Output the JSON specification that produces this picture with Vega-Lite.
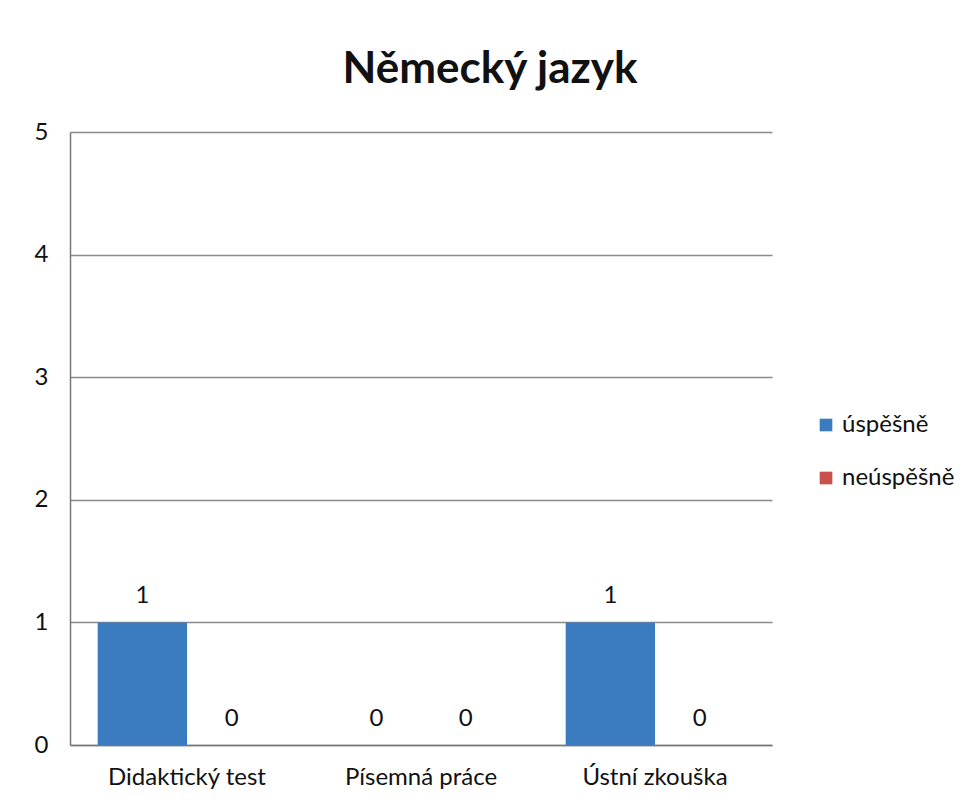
{
  "$schema": "https://vega.github.io/schema/vega-lite/v6.json",
  "width": 702,
  "height": 613,
  "autosize": {"type": "none"},
  "padding": {"left": 70, "top": 132, "right": 201, "bottom": 62},
  "background": "white",
  "title": {
    "text": "Německý jazyk",
    "font": "Lato",
    "fontSize": 44,
    "fontWeight": "bold",
    "color": "#111111",
    "anchor": "middle",
    "dx": 69,
    "offset": 28
  },
  "data": {
    "values": [
      {"zkouska": "Didaktický test", "vysledek": "úspěšně", "pocet": 1},
      {"zkouska": "Didaktický test", "vysledek": "neúspěšně", "pocet": 0},
      {"zkouska": "Písemná práce", "vysledek": "úspěšně", "pocet": 0},
      {"zkouska": "Písemná práce", "vysledek": "neúspěšně", "pocet": 0},
      {"zkouska": "Ústní zkouška", "vysledek": "úspěšně", "pocet": 1},
      {"zkouska": "Ústní zkouška", "vysledek": "neúspěšně", "pocet": 0}
    ]
  },
  "encoding": {
    "x": {
      "field": "zkouska",
      "type": "nominal",
      "sort": ["Didaktický test", "Písemná práce", "Ústní zkouška"],
      "scale": {"paddingInner": 0, "paddingOuter": 0},
      "axis": {
        "title": null,
        "labelAngle": 0,
        "labelFont": "Lato",
        "labelFontSize": 24,
        "labelColor": "#111111",
        "labelPadding": 20,
        "ticks": false,
        "domainColor": "#777777",
        "domainWidth": 1.5
      }
    },
    "xOffset": {
      "field": "vysledek",
      "type": "nominal",
      "sort": ["úspěšně", "neúspěšně"],
      "scale": {"paddingOuter": 0.31, "paddingInner": 0}
    },
    "y": {
      "field": "pocet",
      "type": "quantitative",
      "scale": {"domain": [0, 5]},
      "axis": {
        "title": null,
        "values": [0, 1, 2, 3, 4, 5],
        "format": "d",
        "labelFont": "Lato",
        "labelFontSize": 24,
        "labelColor": "#111111",
        "labelPadding": 22,
        "ticks": false,
        "grid": true,
        "gridColor": "#8a8a8a",
        "gridWidth": 1.3,
        "domainColor": "#777777",
        "domainWidth": 1.5
      }
    },
    "color": {
      "field": "vysledek",
      "type": "nominal",
      "sort": ["úspěšně", "neúspěšně"],
      "scale": {"domain": ["úspěšně", "neúspěšně"], "range": ["#3b7bbf", "#c9514d"]},
      "legend": {
        "title": null,
        "orient": "none",
        "legendX": 744,
        "legendY": 281,
        "symbolType": "square",
        "symbolSize": 160,
        "symbolStrokeWidth": 0,
        "labelFont": "Lato",
        "labelFontSize": 24,
        "labelColor": "#111111",
        "labelOffset": 4,
        "rowPadding": 29
      }
    }
  },
  "layer": [
    {"mark": {"type": "bar"}},
    {
      "mark": {
        "type": "text",
        "baseline": "bottom",
        "dy": -14,
        "font": "Lato",
        "fontSize": 24,
        "color": "#111111"
      },
      "encoding": {
        "text": {"field": "pocet", "type": "quantitative"},
        "color": {"value": "#111111"}
      }
    }
  ],
  "config": {
    "view": {"stroke": null}
  }
}
